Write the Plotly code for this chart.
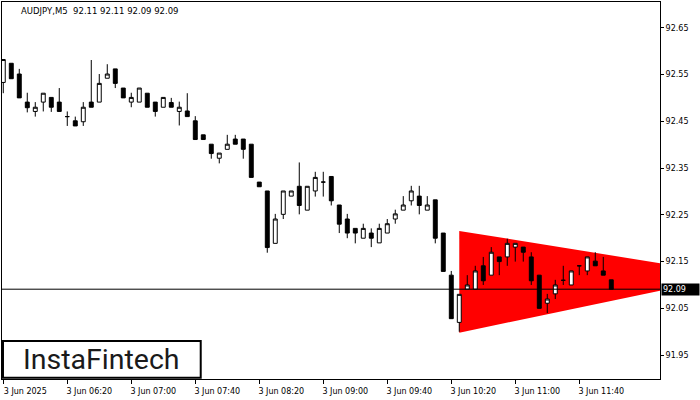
import plotly.graph_objects as go

# ---- data ----
tick_bars = [0, 8, 16, 24, 32, 40, 48, 56, 64, 72]
tick_labels = ["3 Jun 2025", "3 Jun 06:20", "3 Jun 07:00", "3 Jun 07:40", "3 Jun 08:20",
               "3 Jun 09:00", "3 Jun 09:40", "3 Jun 10:20", "3 Jun 11:00", "3 Jun 11:40"]

price_ticks = [91.95, 92.05, 92.15, 92.25, 92.35, 92.45, 92.55, 92.65]

open_ = [92.533, 92.574, 92.551, 92.491, 92.471, 92.491, 92.501, 92.491, 92.460, 92.451,
         92.449, 92.491, 92.491, 92.542, 92.562, 92.521, 92.491, 92.491, 92.510, 92.491,
         92.480, 92.490, 92.471, 92.472, 92.451, 92.421, 92.401, 92.371, 92.390, 92.412,
         92.412, 92.401, 92.320, 92.301, 92.189, 92.251, 92.290, 92.311, 92.260, 92.301,
         92.320, 92.332, 92.271, 92.241, 92.221, 92.200, 92.211, 92.190, 92.211, 92.241,
         92.260, 92.280, 92.290, 92.260, 92.282, 92.211, 92.121, 92.020, 92.091, 92.091,
         92.141, 92.121, 92.160, 92.160, 92.181, 92.181, 92.160, 92.121, 92.061, 92.081,
         92.110, 92.100, 92.141, 92.130, 92.151, 92.130, 92.111]
high_ = [92.582, 92.574, 92.562, 92.511, 92.491, 92.510, 92.501, 92.521, 92.471, 92.460,
         92.491, 92.581, 92.551, 92.572, 92.562, 92.521, 92.511, 92.521, 92.510, 92.491,
         92.501, 92.500, 92.492, 92.510, 92.461, 92.421, 92.401, 92.382, 92.421, 92.421,
         92.412, 92.401, 92.320, 92.301, 92.252, 92.301, 92.301, 92.362, 92.311, 92.342,
         92.342, 92.332, 92.271, 92.252, 92.221, 92.231, 92.221, 92.231, 92.241, 92.261,
         92.290, 92.312, 92.312, 92.290, 92.282, 92.211, 92.130, 92.080, 92.121, 92.141,
         92.160, 92.181, 92.160, 92.199, 92.189, 92.181, 92.170, 92.121, 92.081, 92.111,
         92.141, 92.130, 92.141, 92.160, 92.170, 92.160, 92.111]
low_ = [92.510, 92.541, 92.500, 92.469, 92.460, 92.471, 92.470, 92.471, 92.440, 92.440,
        92.440, 92.480, 92.491, 92.542, 92.521, 92.500, 92.480, 92.491, 92.480, 92.460,
        92.480, 92.480, 92.441, 92.460, 92.411, 92.411, 92.370, 92.360, 92.390, 92.401,
        92.370, 92.330, 92.310, 92.169, 92.189, 92.241, 92.290, 92.251, 92.260, 92.289,
        92.289, 92.270, 92.211, 92.200, 92.189, 92.200, 92.181, 92.190, 92.211, 92.231,
        92.260, 92.270, 92.251, 92.260, 92.189, 92.129, 92.028, 92.000, 92.091, 92.091,
        92.100, 92.121, 92.121, 92.141, 92.150, 92.150, 92.100, 92.050, 92.040, 92.070,
        92.100, 92.100, 92.121, 92.121, 92.141, 92.121, 92.091]
close_ = [92.582, 92.541, 92.500, 92.479, 92.480, 92.510, 92.480, 92.471, 92.460, 92.440,
          92.480, 92.480, 92.531, 92.551, 92.531, 92.500, 92.501, 92.521, 92.480, 92.471,
          92.501, 92.480, 92.480, 92.460, 92.411, 92.411, 92.381, 92.382, 92.401, 92.401,
          92.390, 92.330, 92.310, 92.180, 92.241, 92.301, 92.301, 92.270, 92.311, 92.330,
          92.320, 92.280, 92.230, 92.211, 92.211, 92.221, 92.200, 92.221, 92.231, 92.252,
          92.271, 92.301, 92.270, 92.271, 92.200, 92.129, 92.028, 92.080, 92.100, 92.130,
          92.109, 92.170, 92.150, 92.189, 92.189, 92.170, 92.109, 92.050, 92.070, 92.100,
          92.110, 92.130, 92.141, 92.160, 92.141, 92.121, 92.091]

# symmetrical triangle pattern (bar index, price)
pattern_x = [57, 57, 91.35]
pattern_y = [92.2156, 91.998, 92.121]

title_text = "AUDJPY,M5\u00a0\u00a092.11 92.11 92.09 92.09"
logo_text = "InstaFintech"

FONT = "DejaVu Sans"
X_RANGE = [-0.16, 82.09]
Y_RANGE = [91.899, 92.705]

bars = list(range(len(open_)))

fig = go.Figure()
# triangle on the base subplot (drawn first, underneath)
fig.add_trace(go.Scatter(
    x=pattern_x, y=pattern_y, mode="lines", fill="toself",
    fillcolor="#FF0000", line=dict(width=0, color="#FF0000"),
    hoverinfo="skip", showlegend=False, xaxis="x", yaxis="y"))
# candles on an overlaid subplot (drawn on top)
fig.add_trace(go.Candlestick(
    x=bars, open=open_, high=high_, low=low_, close=close_,
    increasing=dict(fillcolor="#FFFFFF", line=dict(color="#000000", width=1)),
    decreasing=dict(fillcolor="#000000", line=dict(color="#000000", width=1)),
    whiskerwidth=0, showlegend=False, hoverinfo="skip", xaxis="x2", yaxis="y2"))

fig.add_shape(type="line", xref="paper", x0=0, x1=1, yref="y",
              y0=close_[-1], y1=close_[-1], line=dict(color="#000000", width=1),
              layer="above")

# logo box
fig.add_shape(type="rect", xref="paper", yref="paper", x0=0.0015, x1=0.302,
              y0=0.003, y1=0.101, line=dict(color="#000000", width=2),
              fillcolor="#FFFFFF", layer="above")
fig.add_annotation(xref="paper", yref="paper", x=0.1515, y=0.052, text=logo_text,
                   showarrow=False, xanchor="center", yanchor="middle",
                   font=dict(family="Roboto", size=28.5, color="#1a1a1a"))

fig.add_annotation(xref="paper", yref="paper", x=0.0258, y=0.976, text=title_text,
                   showarrow=False, xanchor="left", yanchor="middle",
                   font=dict(family=FONT, size=8.5, color="#000000"))

fig.add_annotation(xref="paper", yref="y", x=1, y=close_[-1], text=f"{close_[-1]:.2f}",
                   showarrow=False, xanchor="left", yanchor="middle", xshift=1,
                   bgcolor="#000000", font=dict(family=FONT, size=8, color="#FFFFFF"),
                   width=35, align="left", borderpad=1)

fig.update_layout(
    width=700, height=400,
    margin=dict(l=2, r=40, t=2, b=21, autoexpand=False),
    paper_bgcolor="#FFFFFF", plot_bgcolor="#FFFFFF",
    showlegend=False,
    font=dict(family=FONT, size=8, color="#000000"),
    xaxis=dict(range=X_RANGE, tickvals=tick_bars, ticktext=tick_labels,
               ticks="outside", ticklen=4, tickcolor="#000000", showline=True,
               linecolor="#000000", linewidth=1, mirror=True, showgrid=False,
               zeroline=False, rangeslider=dict(visible=False), ticklabelshift=22,
               automargin=False,
               tickfont=dict(family=FONT, size=8, color="#000000")),
    yaxis=dict(range=Y_RANGE, side="right", tickvals=price_ticks,
               ticktext=[f"{v:.2f}" for v in price_ticks], ticks="outside", ticklen=3,
               tickcolor="#000000", showline=True, linecolor="#000000", linewidth=1,
               mirror=True, showgrid=False, zeroline=False, automargin=False,
               tickfont=dict(family=FONT, size=8, color="#000000")),
    xaxis2=dict(range=X_RANGE, overlaying="x", visible=False, showgrid=False,
                zeroline=False, rangeslider=dict(visible=False)),
    yaxis2=dict(range=Y_RANGE, overlaying="y", visible=False, showgrid=False,
                zeroline=False),
)

fig.write_html("out.html", config={"displayModeBar": False},
               post_script="document.body.style.margin='0';")
